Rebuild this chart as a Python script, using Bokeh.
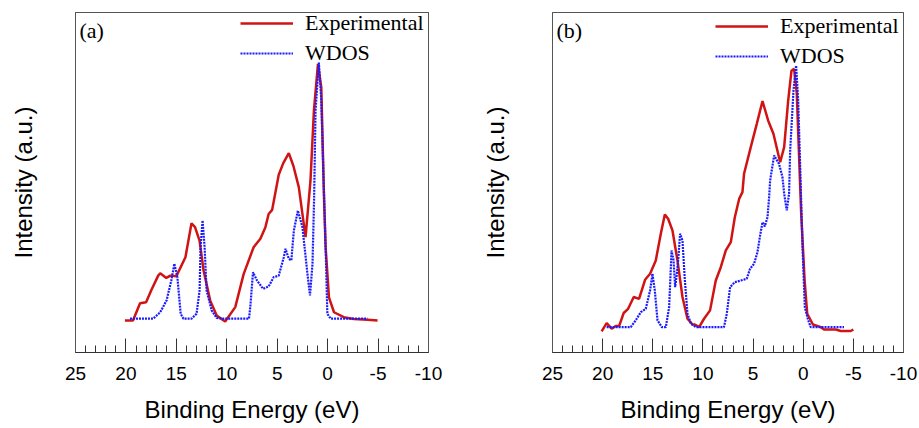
from bokeh.plotting import figure
from bokeh.layouts import row
from bokeh.models import Range1d, FixedTicker, Label, LinearAxis
from bokeh.embed import file_html
from bokeh.resources import INLINE

# ---------------- data (binding energy in eV, intensity in a.u.) ----------------
tick_values = [25, 20, 15, 10, 5, 0, -5, -10]
tick_labels = ["25", "20", "15", "10", "5", "0", "-5", "-10"]
minor_values = list(range(-10, 26))

a_exp_x = [20.1, 19.3, 18.6, 18.0, 17.5, 16.8, 16.6, 16.0, 15.6, 15.0, 14.1, 13.5, 13.15, 12.7, 12.3, 11.65,
           11.0, 10.16, 9.16, 8.33, 7.34, 6.67, 6.17, 5.85, 5.5, 4.85, 4.4, 3.85, 3.4, 2.86, 2.19, 1.7, 1.36,
           0.96, 0.63, 0.37, 0.2, -0.13, -0.63, -1.6, -2.6, -3.95, -4.95]
a_exp_y = [0.0, 0.0, 0.067, 0.071, 0.116, 0.174, 0.183, 0.165, 0.174, 0.172, 0.245, 0.377, 0.362, 0.31, 0.194,
           0.078, 0.019, -0.004, 0.052, 0.18, 0.284, 0.317, 0.362, 0.413, 0.429, 0.565, 0.61, 0.649, 0.6, 0.517,
           0.323, 0.543, 0.814, 0.995, 0.904, 0.49, 0.284, 0.09, 0.032, 0.013, 0.006, 0.003, 0.0]

a_wdos_x = [19.6, 17.3, 16.6, 15.97, 15.5, 15.2, 14.9, 14.57, 14.3, 13.5, 13.0, 12.7, 12.6, 12.4, 12.2, 12.0,
            11.5, 11.0, 10.3, 7.8, 7.67, 7.4, 7.0, 6.4, 5.85, 5.35, 4.85, 4.35, 4.18, 3.85, 3.6, 3.35, 2.95,
            2.5, 2.0, 1.75, 1.5, 1.34, 1.2, 0.87, 0.63, 0.37, 0.2, 0.03, -0.3, -3.95]
a_wdos_y = [0.007, 0.007, 0.032, 0.078, 0.155, 0.22, 0.168, 0.026, 0.007, 0.007, 0.026, 0.116, 0.284, 0.388,
            0.284, 0.116, 0.039, 0.01, 0.007, 0.007, 0.052, 0.187, 0.155, 0.123, 0.132, 0.168, 0.174, 0.245,
            0.278, 0.239, 0.233, 0.349, 0.426, 0.362, 0.18, 0.097, 0.22, 0.478, 0.814, 1.0, 0.853, 0.504,
            0.284, 0.026, 0.007, 0.007]

b_exp_x = [20.1, 19.6, 19.1, 18.7, 18.36, 17.9, 17.46, 16.9, 16.37, 15.77, 15.27, 14.7, 14.2, 13.8, 13.47,
           13.04, 12.54, 12.04, 11.54, 11.04, 10.8, 10.38, 9.89, 9.29, 8.72, 8.22, 7.72, 7.22, 6.82, 6.39,
           6.06, 5.9, 5.23, 4.63, 4.06, 3.5, 2.97, 2.3, 1.9, 1.5, 1.17, 0.91, 0.64, 0.3, 0.2, -0.14, -0.4,
           -0.97, -1.75, -2.08, -3.25, -3.74, -4.74, -5.0]
b_exp_y = [-0.016, 0.015, -0.006, 0.004, 0.004, 0.054, 0.07, 0.115, 0.108, 0.181, 0.204, 0.255, 0.357, 0.43,
           0.414, 0.37, 0.255, 0.115, 0.032, 0.01, 0.01, 0.0, 0.032, 0.064, 0.178, 0.229, 0.293, 0.325, 0.42,
           0.49, 0.516, 0.586, 0.688, 0.777, 0.864, 0.79, 0.739, 0.63, 0.688, 0.866, 0.98, 0.987, 0.892, 0.535,
           0.433, 0.178, 0.051, 0.01, 0.0, -0.009, -0.009, -0.015, -0.015, -0.009]

b_wdos_x = [19.6, 17.2, 16.7, 16.2, 15.7, 15.27, 15.03, 14.8, 14.53, 14.1, 13.7, 13.37, 13.13, 12.93, 12.77,
            12.6, 12.44, 12.28, 12.04, 11.8, 11.54, 11.2, 10.7, 7.9, 7.62, 7.29, 6.82, 6.23, 5.63, 5.3, 4.9,
            4.56, 4.3, 4.06, 3.83, 3.56, 3.4, 3.3, 2.9, 2.41, 2.07, 1.9, 1.64, 1.41, 1.3, 0.97, 0.71, 0.5, 0.3,
            0.07, -0.16, -0.5, -0.75, -4.07]
b_wdos_y = [0.0, 0.0, 0.026, 0.057, 0.07, 0.14, 0.204, 0.14, 0.026, 0.0, 0.0, 0.076, 0.293, 0.255, 0.153,
            0.204, 0.268, 0.357, 0.331, 0.178, 0.051, 0.013, 0.0, 0.0, 0.051, 0.153, 0.172, 0.178, 0.185, 0.223,
            0.242, 0.287, 0.35, 0.401, 0.385, 0.42, 0.497, 0.56, 0.656, 0.624, 0.573, 0.51, 0.446, 0.51, 0.675,
            0.905, 1.0, 0.866, 0.611, 0.306, 0.076, 0.026, 0.0, 0.0]

RED = "#d01414"
BLUE = "#1a1aff"
FRAME = "#555555"
SANS = "Liberation Sans"
SERIF = "Liberation Serif"


def frame_axis():
    a = LinearAxis(ticker=FixedTicker(ticks=[]))
    a.major_label_text_font_size = "0px"
    a.major_label_standoff = 0
    a.major_tick_line_color = None
    a.minor_tick_line_color = None
    a.major_tick_out = 0
    a.axis_line_color = FRAME
    a.axis_line_width = 1
    return a


def panel(tag, ex, ey, wx, wy, yr, fwidth, left_border, right_border, standoff, legend_x, legend_y):
    p = figure(frame_width=fwidth, frame_height=340, output_backend="svg", toolbar_location=None,
               x_range=Range1d(25, -10), y_range=Range1d(*yr),
               min_border_left=left_border, min_border_right=right_border,
               min_border_top=12, min_border_bottom=10)
    p.xgrid.visible = False
    p.ygrid.visible = False
    p.outline_line_color = FRAME
    p.background_fill_color = "white"
    p.border_fill_color = "white"

    p.add_layout(frame_axis(), "above")
    p.add_layout(frame_axis(), "right")

    p.line(ex, ey, line_color=RED, line_width=2.5, legend_label="Experimental")
    p.line(wx, wy, line_color=BLUE, line_width=2.2, line_dash="2 1", legend_label="WDOS")

    ax = p.below[0]
    ax.ticker = FixedTicker(ticks=tick_values, minor_ticks=minor_values)
    ax.major_label_overrides = {v: s for v, s in zip(tick_values, tick_labels)}
    ax.major_tick_in = 14
    ax.major_tick_out = 0
    ax.minor_tick_in = 7
    ax.minor_tick_out = 0
    ax.axis_line_color = "#333333"
    ax.major_tick_line_color = "#333333"
    ax.minor_tick_line_color = "#333333"
    ax.major_label_text_font = SANS
    ax.major_label_text_font_size = "19px"
    ax.major_label_text_color = "black"
    ax.major_label_standoff = 14
    ax.axis_label = "Binding Energy (eV)"
    ax.axis_label_text_font = SANS
    ax.axis_label_text_font_size = "24px"
    ax.axis_label_text_font_style = "normal"
    ax.axis_label_text_color = "black"
    ax.axis_label_standoff = 13

    ay = p.left[0]
    ay.ticker = FixedTicker(ticks=[])
    ay.major_label_text_font_size = "0px"
    ay.major_tick_line_color = None
    ay.minor_tick_line_color = None
    ay.axis_line_color = FRAME
    ay.axis_label = "Intensity (a.u.)"
    ay.axis_label_text_font = SANS
    ay.axis_label_text_font_size = "24px"
    ay.axis_label_text_font_style = "normal"
    ay.axis_label_text_color = "black"
    ay.axis_label_standoff = standoff

    lg = p.legend[0]
    lg.location = (legend_x, legend_y)
    lg.margin = 0
    lg.padding = 0
    lg.spacing = 4
    lg.glyph_width = 53
    lg.glyph_height = 20
    lg.label_height = 20
    lg.label_standoff = 12
    lg.label_text_font = SERIF
    lg.label_text_font_size = "22px"
    lg.label_text_color = "black"
    lg.background_fill_alpha = 0
    lg.border_line_color = None

    p.add_layout(Label(x=4, y=322, x_units="screen", y_units="screen", text=tag,
                       text_font=SERIF, text_font_size="22px", text_color="black",
                       text_baseline="middle"))
    return p


pa = panel("(a)", a_exp_x, a_exp_y, a_wdos_x, a_wdos_y, (-0.124, 1.194), 353, 75, 48, 39, 165, 286)
pb = panel("(b)", b_exp_x, b_exp_y, b_wdos_x, b_wdos_y, (-0.097, 1.2025), 351, 76, 16, 44, 163, 283)

layout = row(pa, pb)
open("out.html", "w").write(file_html(layout, INLINE))
